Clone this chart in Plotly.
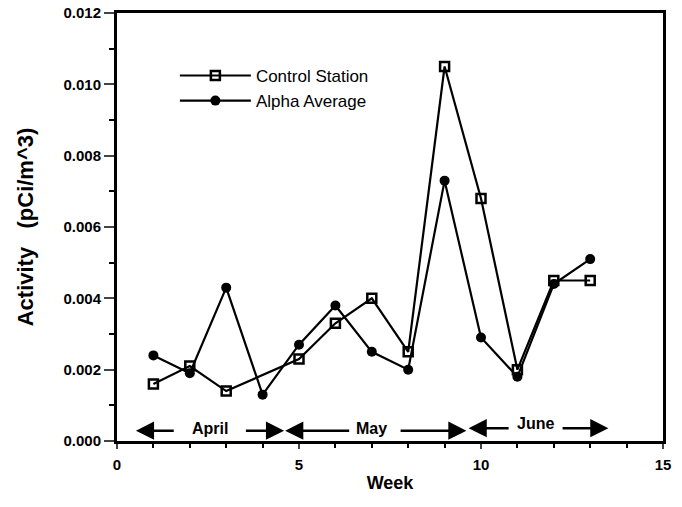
import plotly.graph_objects as go

control_weeks = [1, 2, 3, 5, 6, 7, 8, 9, 10, 11, 12, 13]
control_vals = [0.0016, 0.0021, 0.0014, 0.0023, 0.0033, 0.0040, 0.0025, 0.0105, 0.0068, 0.0020, 0.0045, 0.0045]

alpha_weeks = [1, 2, 3, 4, 5, 6, 7, 8, 9, 10, 11, 12, 13]
alpha_vals = [0.0024, 0.0019, 0.0043, 0.0013, 0.0027, 0.0038, 0.0025, 0.0020, 0.0073, 0.0029, 0.0018, 0.0044, 0.0051]

months = ["April", "May", "June"]
month_tip_left = [0.52, 4.62, 9.66]
month_tip_right = [4.59, 9.6, 13.5]
month_line_left_end = [1.6, 6.42, 10.8]
month_line_right_start = [3.5, 7.75, 12.2]
month_center = [2.55, 7.0, 11.5]
month_arrow_y = [0.00029, 0.00029, 0.00036]
month_text_y = [0.00034, 0.00034, 0.00048]

font_family = "Liberation Sans, Arial, Helvetica, sans-serif"

fig = go.Figure()
fig.add_trace(go.Scatter(
    x=control_weeks, y=control_vals, mode="lines+markers", name="Control Station",
    line=dict(color="black", width=2.2),
    marker=dict(symbol="square-open", size=9, color="black", line=dict(width=2.5)),
))
fig.add_trace(go.Scatter(
    x=alpha_weeks, y=alpha_vals, mode="lines+markers", name="Alpha Average",
    line=dict(color="black", width=2.2),
    marker=dict(symbol="circle", size=10, color="black"),
))

annotations = []
for m, tl, tr, le, rs, c, ay_, ty in zip(months, month_tip_left, month_tip_right, month_line_left_end,
                                        month_line_right_start, month_center, month_arrow_y, month_text_y):
    annotations.append(dict(x=c, y=ty, xref="x", yref="y", text="<b>" + m + "</b>", showarrow=False,
                            font=dict(size=16, color="black", family=font_family)))
    for tip, start in ((tl, le), (tr, rs)):
        annotations.append(dict(x=tip, y=ay_, ax=start, ay=ay_, xref="x", yref="y", axref="x", ayref="y",
                                text="", showarrow=True, arrowhead=2, arrowsize=1.45, arrowwidth=2.5,
                                arrowcolor="black", standoff=0, startstandoff=0))

fig.update_layout(
    width=682, height=507,
    margin=dict(l=117, r=19, t=13, b=66),
    paper_bgcolor="white", plot_bgcolor="white",
    font=dict(family=font_family, color="black"),
    showlegend=True,
    legend=dict(x=0.106, y=0.895, xanchor="left", yanchor="top", bgcolor="rgba(0,0,0,0)",
                font=dict(size=17, color="black", family=font_family), itemwidth=71),
    annotations=annotations,
)
fig.update_xaxes(
    range=[0, 15], tickvals=[0, 5, 10, 15], ticks="outside", ticklen=5, tickwidth=2,
    ticklabelstandoff=3, automargin=False,
    minor=dict(dtick=1, ticks="outside", ticklen=4, tickwidth=2, tickcolor="black"),
    showgrid=False, zeroline=False, showline=True, linecolor="black", linewidth=3, mirror=True,
    tickfont=dict(size=15, family=font_family, weight="bold"),
    title=dict(text="<b>Week</b>", font=dict(size=18, family=font_family), standoff=5),
)
fig.update_yaxes(
    range=[0, 0.012], tickvals=[0, 0.002, 0.004, 0.006, 0.008, 0.010, 0.012], tickformat=".3f",
    ticks="outside", ticklen=10, tickwidth=2, automargin=False,
    minor=dict(dtick=0.001, ticks="outside", ticklen=5, tickwidth=2, tickcolor="black"),
    showgrid=False, zeroline=False, showline=True, linecolor="black", linewidth=3, mirror=True,
    tickfont=dict(size=15, family=font_family, weight="bold"),
    title=dict(text="<b>Activity   (pCi/m^3)</b>", font=dict(size=22, family=font_family), standoff=24),
)

fig.write_html("out.html")
